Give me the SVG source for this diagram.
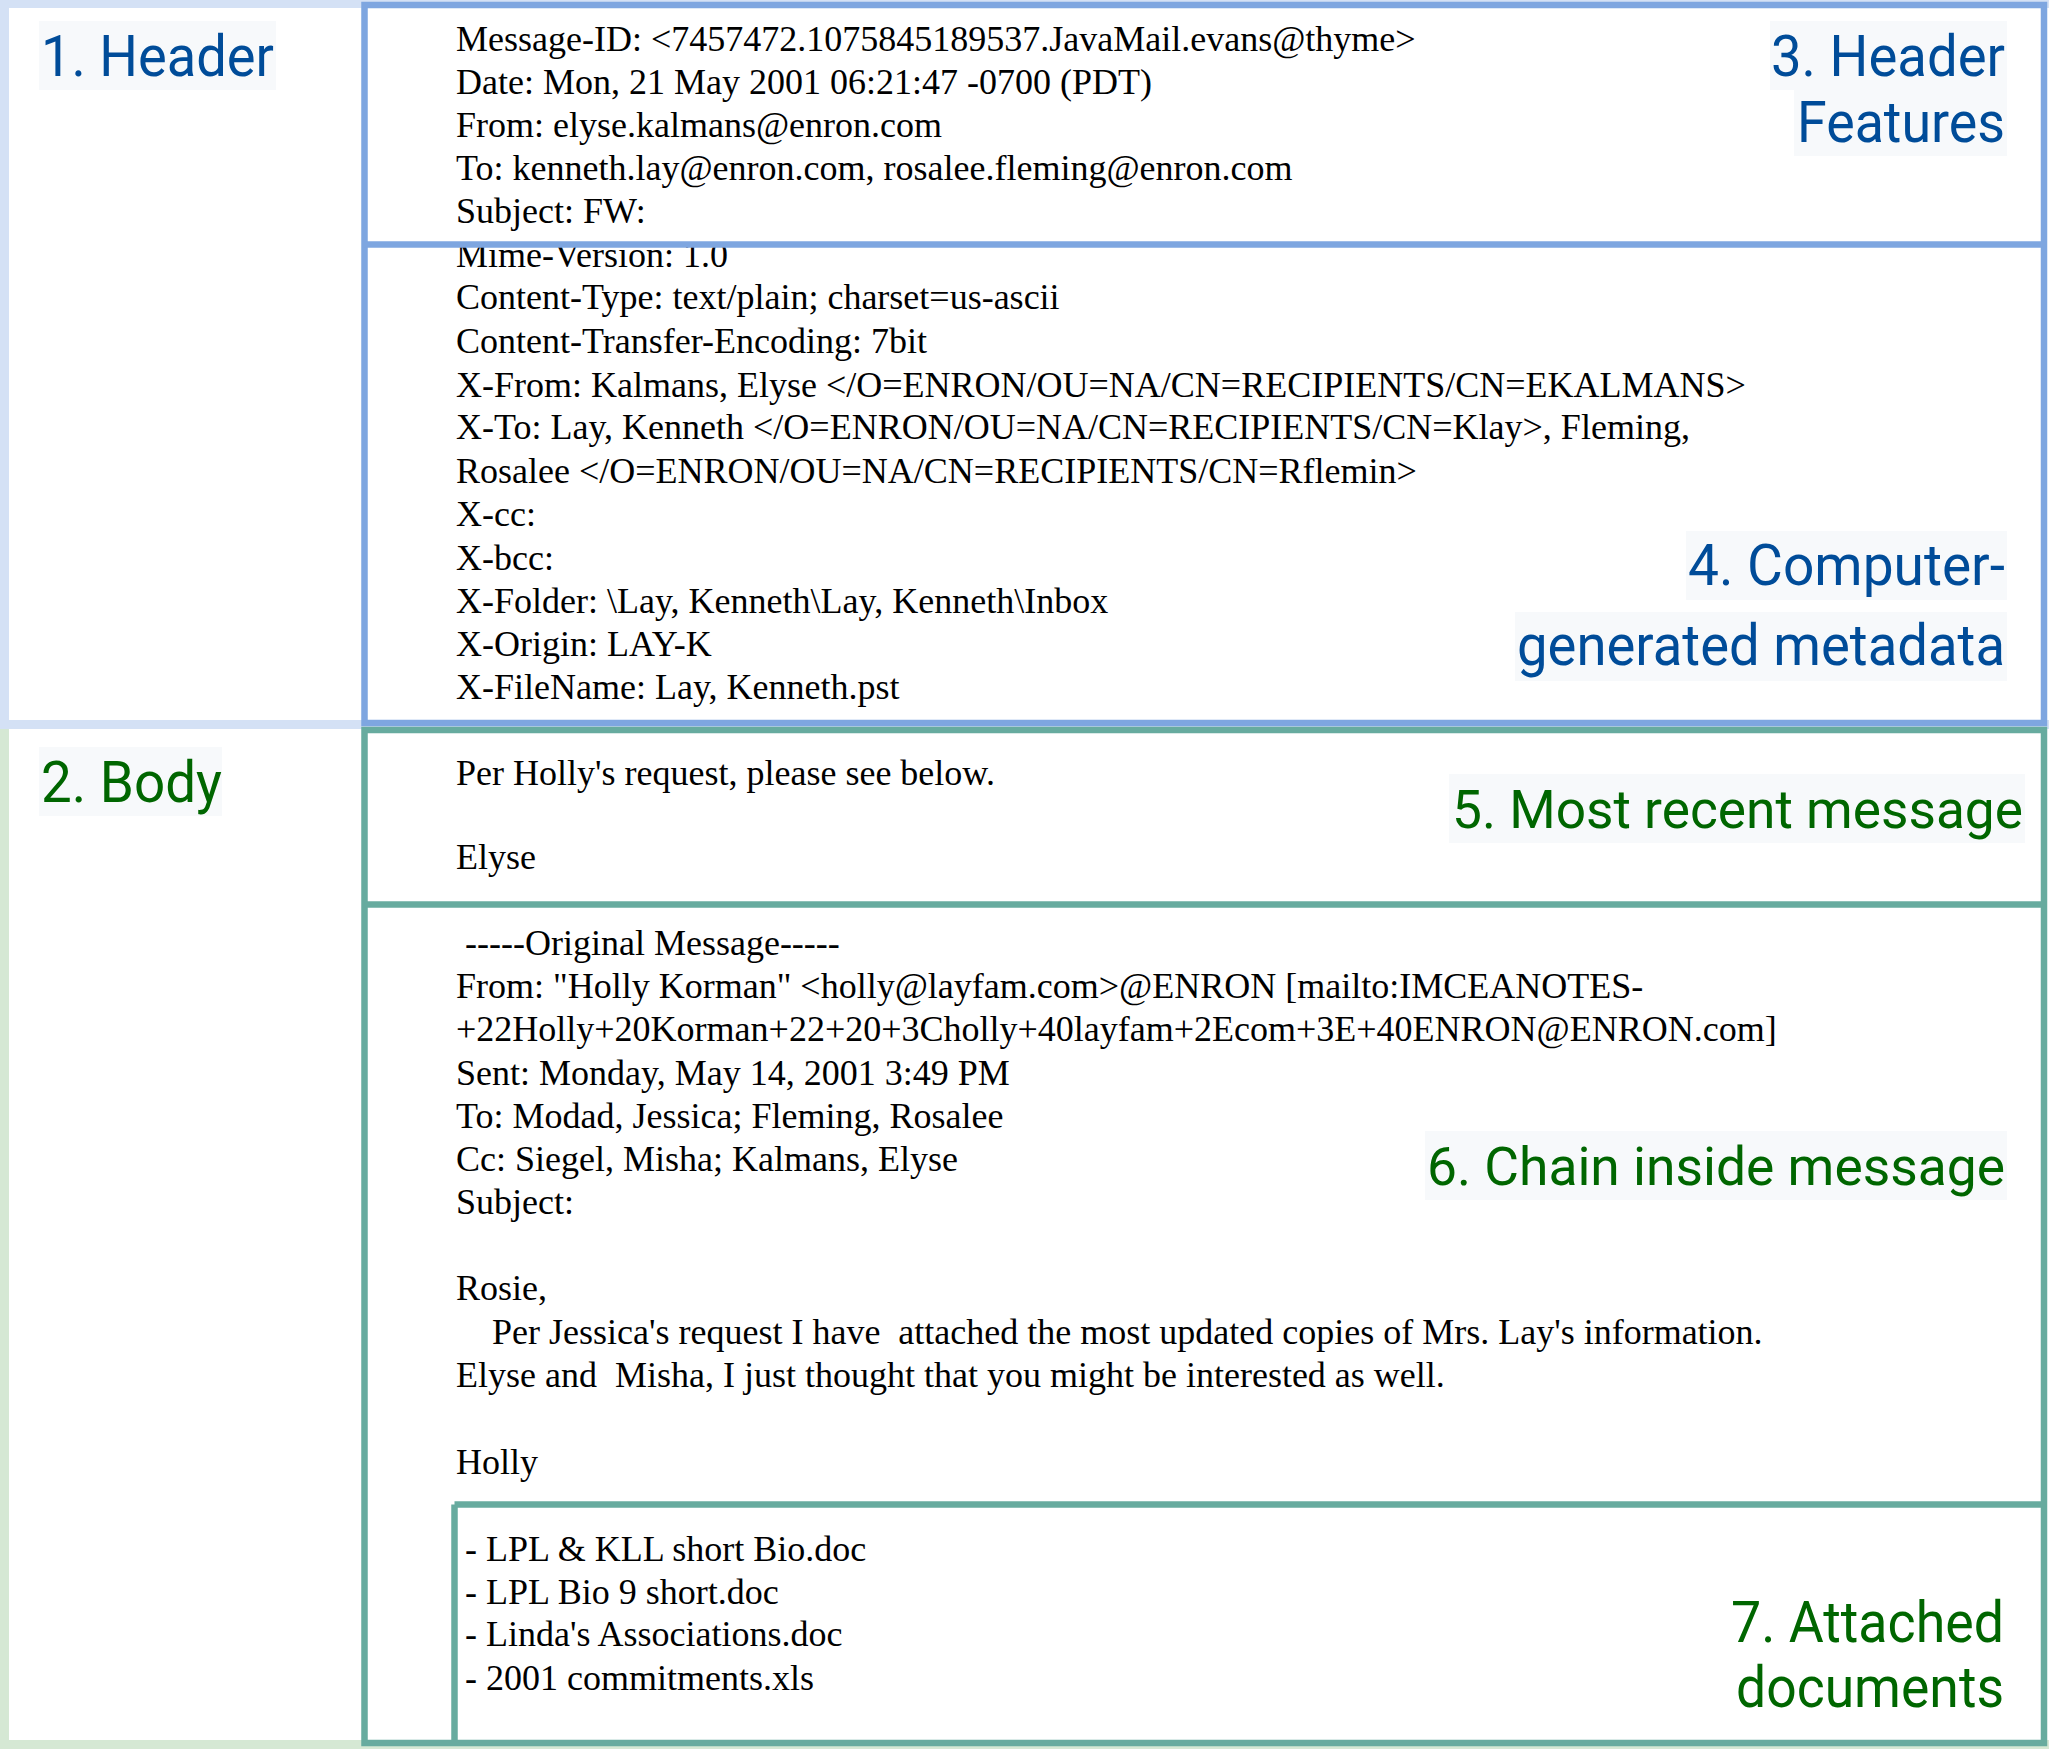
<svg xmlns="http://www.w3.org/2000/svg" width="2049" height="1749" viewBox="0 0 2049 1749">
<style>
.mail{font-family:"Liberation Serif","Times New Roman",serif;font-size:36px;fill:#000}
.lbl{font-family:Roboto,"Noto Sans",sans-serif;font-size:58px}
.lbl.long{font-size:54px}
.blue{fill:#004c99}
.green{fill:#006600}
.bg{fill:#f7f9fb}
.bframe{fill:none;stroke:#7ea6e0;stroke-width:6.5}
.gframe{fill:none;stroke:#67ab9f;stroke-width:6.5}
</style>
<rect x="0" y="0" width="2049" height="1749" fill="#ffffff"/>
<g id="section-header">
<rect x="0" y="0" width="2049" height="729" fill="#d4e1f5"/>
<rect x="9" y="8" width="2040" height="712" fill="#ffffff"/>
<rect class="bg" x="39" y="21" width="237" height="69"/>
<text class="lbl blue" x="41" y="76" textLength="233" lengthAdjust="spacingAndGlyphs">1. Header</text>
</g>
<g id="section-body">
<rect x="0" y="729" width="2049" height="1020" fill="#d5e8d4"/>
<rect x="9" y="729" width="2040" height="1011" fill="#ffffff"/>
<rect class="bg" x="39" y="747" width="183" height="69"/>
<text class="lbl green" x="41" y="802" textLength="181" lengthAdjust="spacingAndGlyphs">2. Body</text>
</g>
<g id="header-features">
<text class="mail" x="456" y="51">Message-ID: &lt;7457472.1075845189537.JavaMail.evans@thyme&gt;</text>
<text class="mail" x="456" y="94">Date: Mon, 21 May 2001 06:21:47 -0700 (PDT)</text>
<text class="mail" x="456" y="137">From: elyse.kalmans@enron.com</text>
<text class="mail" x="456" y="180">To: kenneth.lay@enron.com, rosalee.fleming@enron.com</text>
<text class="mail" x="456" y="223">Subject: FW:</text>
<rect class="bg" x="1770" y="21" width="237" height="69"/>
<rect class="bg" x="1794" y="90" width="213" height="66"/>
<text class="lbl blue" x="2005" y="76" text-anchor="end" textLength="234" lengthAdjust="spacingAndGlyphs">3. Header</text>
<text class="lbl blue" x="2005" y="142" text-anchor="end" textLength="208" lengthAdjust="spacingAndGlyphs">Features</text>
</g>
<g id="computer-metadata">
<text class="mail" x="456" y="267">Mime-Version: 1.0</text>
<text class="mail" x="456" y="309">Content-Type: text/plain; charset=us-ascii</text>
<text class="mail" x="456" y="353">Content-Transfer-Encoding: 7bit</text>
<text class="mail" x="456" y="397">X-From: Kalmans, Elyse &lt;/O=ENRON/OU=NA/CN=RECIPIENTS/CN=EKALMANS&gt;</text>
<text class="mail" x="456" y="439">X-To: Lay, Kenneth &lt;/O=ENRON/OU=NA/CN=RECIPIENTS/CN=Klay&gt;, Fleming,</text>
<text class="mail" x="456" y="483">Rosalee &lt;/O=ENRON/OU=NA/CN=RECIPIENTS/CN=Rflemin&gt;</text>
<text class="mail" x="456" y="526">X-cc:</text>
<text class="mail" x="456" y="570">X-bcc:</text>
<text class="mail" x="456" y="613">X-Folder: \Lay, Kenneth\Lay, Kenneth\Inbox</text>
<text class="mail" x="456" y="656">X-Origin: LAY-K</text>
<text class="mail" x="456" y="699">X-FileName: Lay, Kenneth.pst</text>
<rect class="bg" x="1686" y="531" width="321" height="69"/>
<rect class="bg" x="1515" y="612" width="492" height="69"/>
<text class="lbl blue" x="2005" y="585" text-anchor="end" textLength="317" lengthAdjust="spacingAndGlyphs">4. Computer-</text>
<text class="lbl blue" x="2005" y="665" text-anchor="end" textLength="488" lengthAdjust="spacingAndGlyphs">generated metadata</text>
</g>
<g id="recent-message">
<text class="mail" x="456" y="785">Per Holly's request, please see below.</text>
<text class="mail" x="456" y="869">Elyse</text>
<rect class="bg" x="1449" y="774" width="576" height="69"/>
<text class="lbl long green" x="2023" y="828" text-anchor="end" textLength="571" lengthAdjust="spacingAndGlyphs">5. Most recent message</text>
</g>
<g id="chain-message">
<text class="mail" x="465" y="955">-----Original Message-----</text>
<text class="mail" x="456" y="998">From: "Holly Korman" &lt;holly@layfam.com&gt;@ENRON [mailto:IMCEANOTES-</text>
<text class="mail" x="456" y="1041">+22Holly+20Korman+22+20+3Cholly+40layfam+2Ecom+3E+40ENRON@ENRON.com]</text>
<text class="mail" x="456" y="1085">Sent: Monday, May 14, 2001 3:49 PM</text>
<text class="mail" x="456" y="1128">To: Modad, Jessica; Fleming, Rosalee</text>
<text class="mail" x="456" y="1171">Cc: Siegel, Misha; Kalmans, Elyse</text>
<text class="mail" x="456" y="1214">Subject:</text>
<text class="mail" x="456" y="1300">Rosie,</text>
<text class="mail" x="492" y="1344" xml:space="preserve">Per Jessica's request I have  attached the most updated copies of Mrs. Lay's information.</text>
<text class="mail" x="456" y="1387" xml:space="preserve">Elyse and  Misha, I just thought that you might be interested as well.</text>
<text class="mail" x="456" y="1474">Holly</text>
<rect class="bg" x="1425" y="1131" width="582" height="69"/>
<text class="lbl long green" x="2005" y="1185" text-anchor="end" textLength="578" lengthAdjust="spacingAndGlyphs">6. Chain inside message</text>
</g>
<g id="attached-documents">
<text class="mail" x="465" y="1561">- LPL &amp; KLL short Bio.doc</text>
<text class="mail" x="465" y="1604">- LPL Bio 9 short.doc</text>
<text class="mail" x="465" y="1646">- Linda's Associations.doc</text>
<text class="mail" x="465" y="1690">- 2001 commitments.xls</text>
<text class="lbl green" x="2004" y="1642" text-anchor="end" textLength="273" lengthAdjust="spacingAndGlyphs">7. Attached</text>
<text class="lbl green" x="2004" y="1707" text-anchor="end" textLength="268" lengthAdjust="spacingAndGlyphs">documents</text>
</g>
<g id="frames">
<rect class="bframe" x="364.5" y="5" width="1679.5" height="718"/>
<line class="bframe" x1="364.5" y1="244.5" x2="2044" y2="244.5"/>
<rect class="gframe" x="364.5" y="730" width="1679.5" height="1013"/>
<line class="gframe" x1="364.5" y1="904.5" x2="2044" y2="904.5"/>
<line class="gframe" x1="454.5" y1="1504.5" x2="2044" y2="1504.5"/>
<line class="gframe" x1="454.5" y1="1504.5" x2="454.5" y2="1743"/>
</g>
<g id="connectors"/>
</svg>
